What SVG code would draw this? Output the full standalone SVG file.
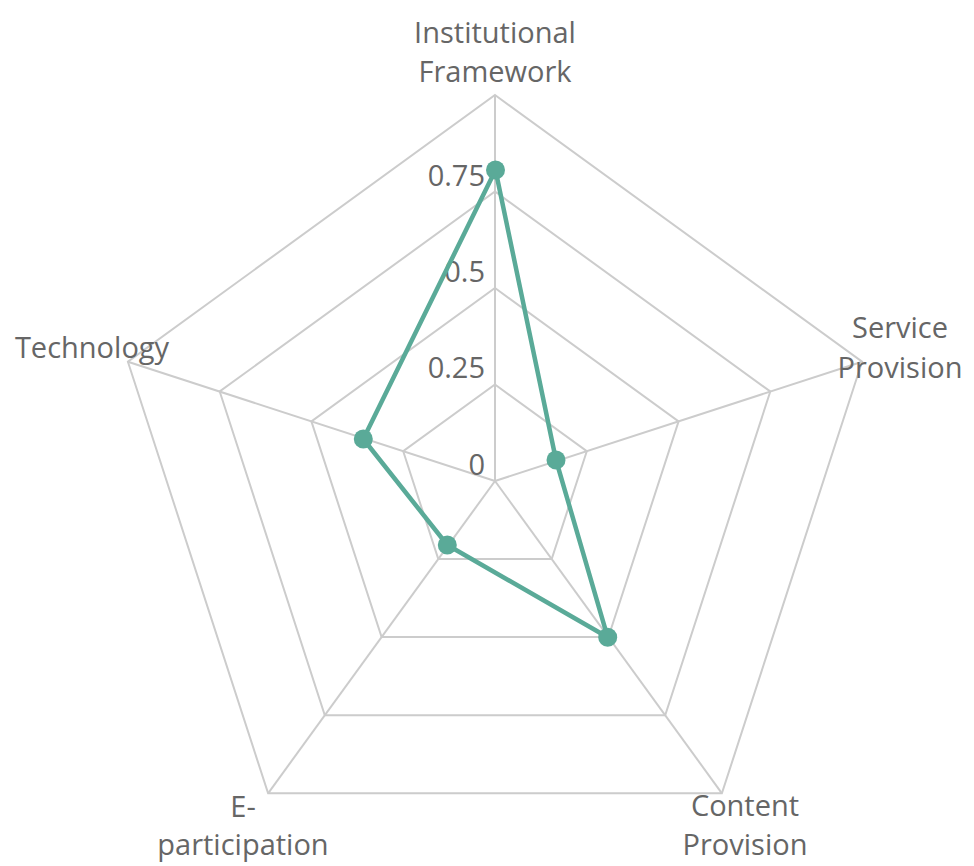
<svg xmlns="http://www.w3.org/2000/svg" width="974" height="866" viewBox="0 0 974 866">
<style>
.grid{fill:none;stroke:#cccccc;stroke-width:2}
.axis{stroke:#cccccc;stroke-width:2}
.lbl{font-family:"Open Sans","Noto Sans",sans-serif;font-size:29px;fill:#666666}
.tick{font-family:"Open Sans","Noto Sans",sans-serif;font-size:29px;fill:#666666;text-anchor:end}
.series{fill:none;stroke:#5aaa98;stroke-width:4.5;stroke-linejoin:round}
.pt{fill:#5aaa98}
</style>
<rect width="974" height="866" fill="#ffffff"/>
<g id="grid">
<polygon class="grid" points="495,384.5 586.8,451.2 551.7,559.1 438.3,559.1 403.2,451.2"/>
<polygon class="grid" points="495,288 678.6,421.4 608.4,637.1 381.6,637.1 311.4,421.4"/>
<polygon class="grid" points="495,191.5 770.3,391.5 665.2,715.2 324.8,715.2 219.7,391.5"/>
<polygon class="grid" points="495,95 862.1,361.7 721.9,793.3 268.1,793.3 127.9,361.7"/>
</g>
<g id="connectors">
<line class="axis" x1="495" y1="481" x2="495" y2="95"/>
<line class="axis" x1="495" y1="481" x2="862.1" y2="361.7"/>
<line class="axis" x1="495" y1="481" x2="721.9" y2="793.3"/>
<line class="axis" x1="495" y1="481" x2="268.1" y2="793.3"/>
<line class="axis" x1="495" y1="481" x2="127.9" y2="361.7"/>
</g>
<g id="ticks">
<text class="tick" x="485" y="475">0</text>
<text class="tick" x="485" y="378">0.25</text>
<text class="tick" x="485" y="282">0.5</text>
<text class="tick" x="485" y="186">0.75</text>
</g>
<g id="series">
<polygon class="series" points="495.5,170 556,460 607.7,637.3 447.3,545 363.3,439"/>
<circle class="pt" cx="495.5" cy="170" r="9.5"/>
<circle class="pt" cx="556" cy="460" r="9.5"/>
<circle class="pt" cx="607.7" cy="637.3" r="9.5"/>
<circle class="pt" cx="447.3" cy="545" r="9.5"/>
<circle class="pt" cx="363.3" cy="439" r="9.5"/>
</g>
<g id="node-institutional">
<text class="lbl" x="495" y="43" text-anchor="middle">Institutional</text>
<text class="lbl" x="495" y="82" text-anchor="middle">Framework</text>
</g>
<g id="node-service">
<text class="lbl" x="900" y="338" text-anchor="middle">Service</text>
<text class="lbl" x="900" y="378" text-anchor="middle">Provision</text>
</g>
<g id="node-content">
<text class="lbl" x="745" y="816" text-anchor="middle">Content</text>
<text class="lbl" x="745" y="855" text-anchor="middle">Provision</text>
</g>
<g id="node-eparticipation">
<text class="lbl" x="243" y="817" text-anchor="middle">E-</text>
<text class="lbl" x="243" y="855" text-anchor="middle">participation</text>
</g>
<g id="node-technology">
<text class="lbl" x="92" y="358" text-anchor="middle">Technology</text>
</g>
</svg>
